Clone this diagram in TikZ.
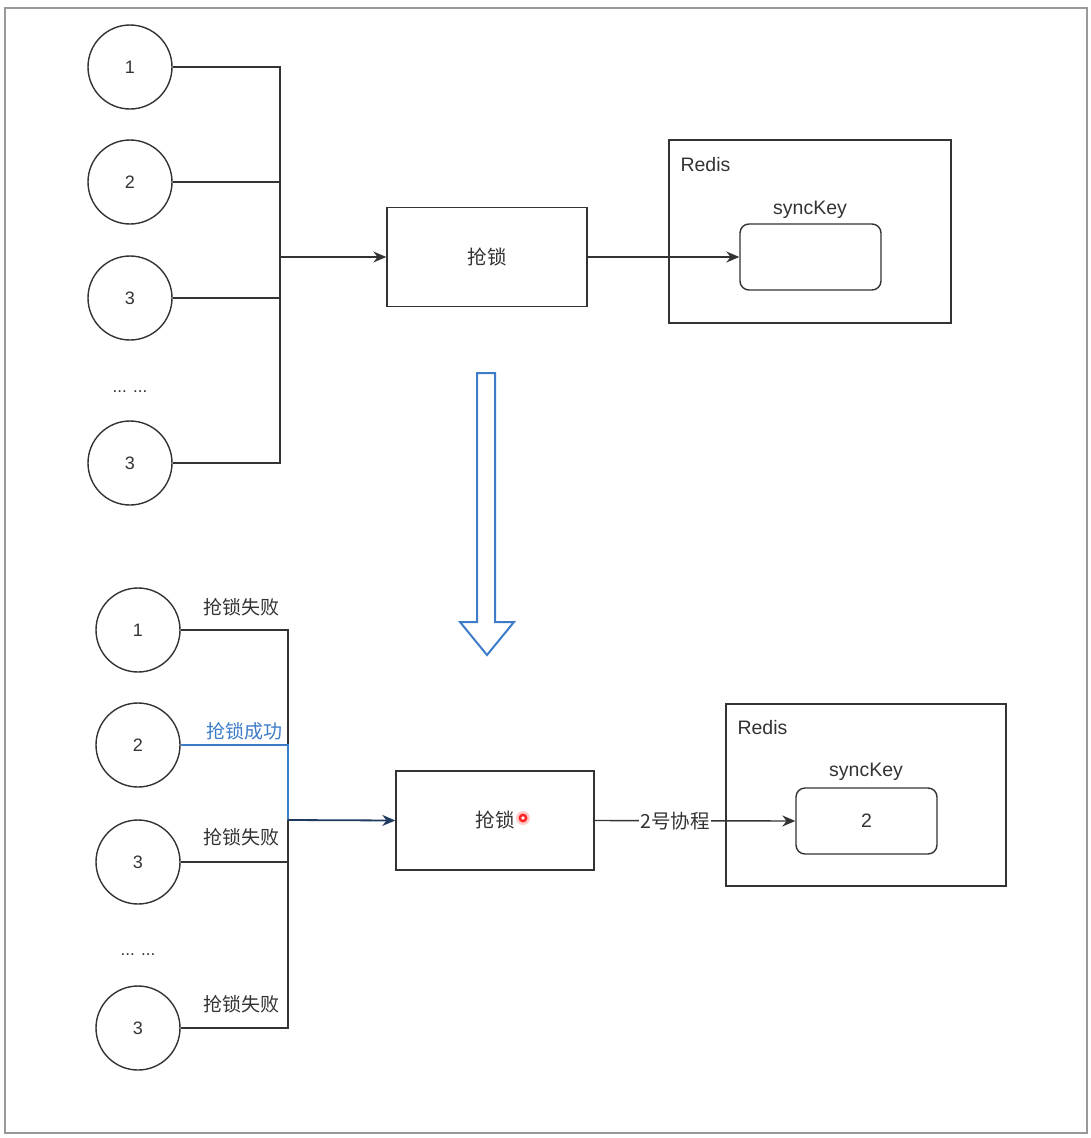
\documentclass[tikz,border=0pt]{standalone}
\usepackage{fontspec}
\setmainfont{Liberation Sans}
\newfontfamily\cjk{Noto Sans CJK SC}
\usetikzlibrary{arrows.meta}
\definecolor{ln}{HTML}{333333}
\definecolor{bl}{HTML}{3D7CC9}
\definecolor{navy}{HTML}{1F3A5F}
\begin{document}
\begin{tikzpicture}[x=1pt,y=-1pt,
  every node/.style={font=\fontsize{19.5}{21}\selectfont, text=ln},
  proc/.style={circle, draw=ln, line width=1.4pt, minimum size=84pt, inner sep=0pt, font=\fontsize{18}{20}\selectfont},
  boxx/.style={draw=ln, line width=1.4pt, rectangle, inner sep=0pt},
  keybox/.style={draw=ln, line width=1.4pt, rectangle, rounded corners=9pt, inner sep=0pt},
  wire/.style={draw=ln, line width=1.4pt},
  arr/.style={wire, -{Stealth[length=13pt,width=11pt]}},
  lab/.style={font=\cjk\fontsize{19.5}{21}\selectfont},
  slab/.style={font=\cjk\fontsize{19}{21}\selectfont, anchor=center},
  dotsty/.style={font=\fontsize{17}{17}\selectfont}
]
\useasboundingbox (0,0) rectangle (1091,1138);
\fill[white] (0,0) rectangle (1091,1138);
\draw[gray!80, line width=1.6pt] (5,8) rectangle (1087,1133);

% ---------- top ----------
\node[proc] (a1) at (130,67) {1};
\node[proc] (a2) at (130,182) {2};
\node[proc] (a3) at (130,298) {3};
\node[dotsty] (adots) at (130,392) {... ...};
\node[proc] (a4) at (130,463) {3};
\coordinate (bA1) at (280,67);
\coordinate (bA2) at (280,182);
\coordinate (bA3) at (280,298);
\coordinate (bA4) at (280,463);
\coordinate (bAm) at (280,257);
\node[boxx, minimum width=200pt, minimum height=99pt, lab] (lockA) at (487,257) {抢锁};
\node[boxx, minimum width=282pt, minimum height=183pt] (redA) at (810,231.5) {};
\node[anchor=west] (redAl) at (677,165) {Redis};
\node (keyAl) at (810,210) {syncKey};
\node[keybox, minimum width=141pt, minimum height=66pt] (keyA) at (810.5,257) {};
\draw[wire] (a1.east) -- (bA1) -- (bA4) -- (a4.east);
\draw[wire] (a2.east) -- (bA2);
\draw[wire] (a3.east) -- (bA3);
\draw[arr] (bAm) -- (lockA.west);
\draw[arr] (lockA.east) -- (keyA.west);

% ---------- hollow arrow ----------
\draw[bl, line width=2pt, line join=miter, fill=white]
  (477,373) -- (495,373) -- (495,622) -- (514,622) -- (487,655) -- (460,622) -- (477,622) -- cycle;

% ---------- bottom ----------
\node[proc] (c1) at (138,630) {1};
\node[proc] (c2) at (138,745) {2};
\node[proc] (c3) at (138,862) {3};
\node[dotsty] (cdots) at (138,955) {... ...};
\node[proc] (c4) at (138,1028) {3};
\coordinate (bC1) at (288,630);
\coordinate (bC2) at (288,745);
\coordinate (bC3) at (288,862);
\coordinate (bC4) at (288,1028);
\coordinate (bCm) at (288,820);
\node[boxx, minimum width=198pt, minimum height=99pt, lab] (lockC) at (495,820.5) {抢锁};
\node[boxx, minimum width=280pt, minimum height=182pt] (redC) at (866,795) {};
\node[anchor=west] (redCl) at (734,728) {Redis};
\node (keyCl) at (866,772) {syncKey};
\node[keybox, minimum width=141pt, minimum height=66pt] (keyC) at (866.5,821) {2};
\draw[wire] (c1.east) -- (bC1) -- (bC4) -- (c4.east);
\draw[wire] (c3.east) -- (bC3);
\draw[bl, line width=1.8pt] (c2.east) -- (bC2) -- (bCm);
\draw[navy, line width=1.8pt, -{Stealth[length=13pt,width=11pt]}] (bCm) -- (lockC.west);
\draw[arr] (lockC.east) -- node[pos=0.4, fill=white, inner sep=1pt, font=\cjk\fontsize{19.5}{21}\selectfont] (lab2) {2号协程} (keyC.west);

\node[slab] (l1) at (241,607) {抢锁失败};
\node[slab, text=bl] (l2) at (244,731) {抢锁成功};
\node[slab] (l3) at (241,837) {抢锁失败};
\node[slab] (l4) at (241,1004) {抢锁失败};

% cursor highlight
\fill[red!20] (523,818) circle (7pt);
\fill[red!85] (523,818) circle (4.5pt);
\fill[white] (523,818) circle (1.8pt);
\end{tikzpicture}
\end{document}
